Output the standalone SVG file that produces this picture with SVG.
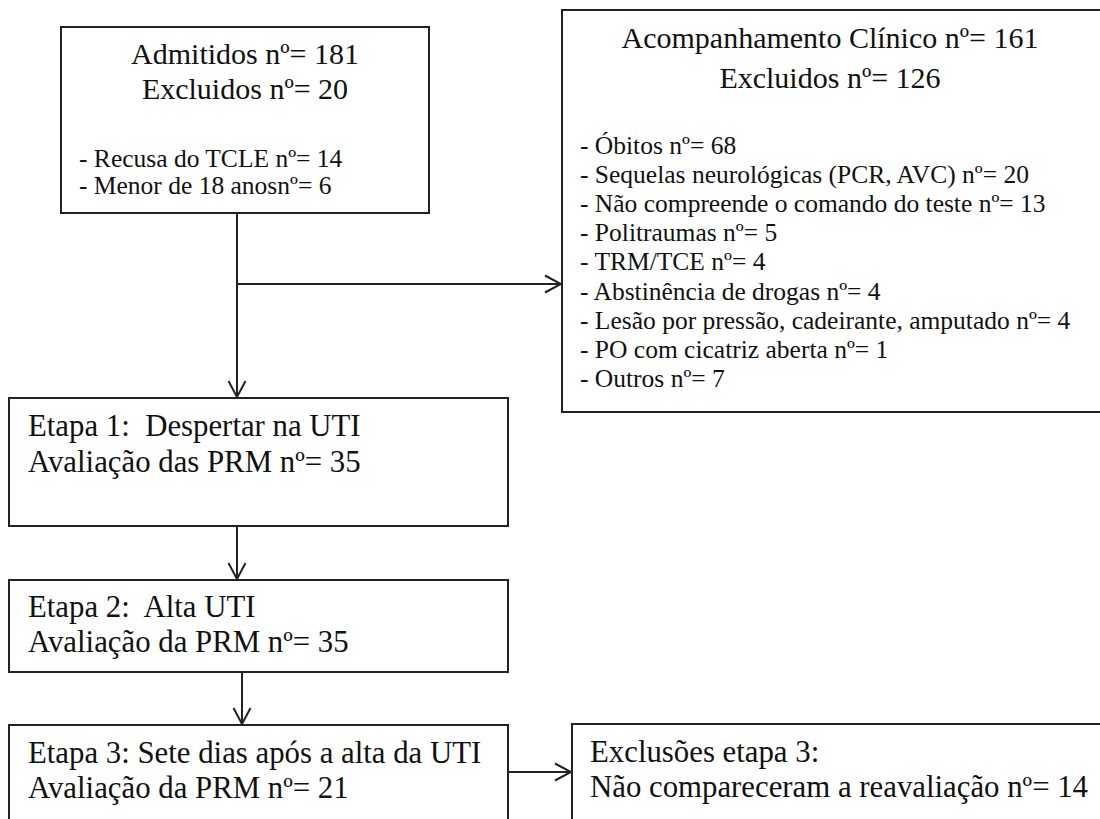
<svg xmlns="http://www.w3.org/2000/svg" width="1100" height="819" viewBox="0 0 1100 819">
<style>
.box{fill:#fff;stroke:#222;stroke-width:2}
text{font-family:"Liberation Serif","DejaVu Serif","Times New Roman",serif;fill:#111;white-space:pre}
.big{font-size:30px}
.mid{font-size:30.8px}
.small{font-size:25.5px}
.c{text-anchor:middle}
.conn{fill:none;stroke:#222;stroke-width:2}
</style>
<defs>
<marker id="arr" viewBox="-17 -10 19 20" refX="0" refY="0" markerWidth="19" markerHeight="20" markerUnits="userSpaceOnUse" orient="auto">
<path d="M-16,-8.5 L0,0 L-16,8.5" fill="none" stroke="#222" stroke-width="2"/>
</marker>
</defs>
<rect width="1100" height="819" fill="#fff"/>
<g id="connectors">
<line class="conn" x1="237" y1="213" x2="237" y2="397" marker-end="url(#arr)"/>
<line class="conn" x1="237" y1="284" x2="561" y2="284" marker-end="url(#arr)"/>
<line class="conn" x1="237" y1="526" x2="237" y2="579" marker-end="url(#arr)"/>
<line class="conn" x1="242" y1="672" x2="242" y2="724" marker-end="url(#arr)"/>
<line class="conn" x1="508" y1="772" x2="571" y2="772" marker-end="url(#arr)"/>
</g>
<g id="admitidos">
<rect class="box" x="61" y="27" width="368" height="186"/>
<text class="big c" x="245" y="64">Admitidos nº= 181</text>
<text class="big c" x="245" y="99">Excluidos nº= 20</text>
<text class="small" x="79" y="167">- Recusa do TCLE nº= 14</text>
<text class="small" x="79" y="194">- Menor de 18 anosnº= 6</text>
</g>
<g id="acompanhamento">
<rect class="box" x="562" y="10" width="560" height="402"/>
<text class="big c" x="830" y="48">Acompanhamento Clínico nº= 161</text>
<text class="big c" x="830" y="88">Excluidos nº= 126</text>
<text class="small" x="580" y="154">- Óbitos nº= 68</text>
<text class="small" x="580" y="183">- Sequelas neurológicas (PCR, AVC) nº= 20</text>
<text class="small" x="580" y="212">- Não compreende o comando do teste nº= 13</text>
<text class="small" x="580" y="241">- Politraumas nº= 5</text>
<text class="small" x="580" y="270">- TRM/TCE nº= 4</text>
<text class="small" x="580" y="300">- Abstinência de drogas nº= 4</text>
<text class="small" x="580" y="329">- Lesão por pressão, cadeirante, amputado nº= 4</text>
<text class="small" x="580" y="358">- PO com cicatriz aberta nº= 1</text>
<text class="small" x="580" y="387">- Outros nº= 7</text>
</g>
<g id="etapa1">
<rect class="box" x="9" y="398" width="499" height="128"/>
<text class="mid" x="28" y="436">Etapa 1:  Despertar na UTI</text>
<text class="mid" x="28" y="472">Avaliação das PRM nº= 35</text>
</g>
<g id="etapa2">
<rect class="box" x="9" y="580" width="499" height="92"/>
<text class="mid" x="28" y="617">Etapa 2:  Alta UTI</text>
<text class="mid" x="28" y="652">Avaliação da PRM nº= 35</text>
</g>
<g id="etapa3">
<rect class="box" x="9" y="725" width="499" height="110"/>
<text class="mid" x="28" y="763">Etapa 3: Sete dias após a alta da UTI</text>
<text class="mid" x="28" y="798">Avaliação da PRM nº= 21</text>
</g>
<g id="exclusoes">
<rect class="box" x="572" y="724" width="550" height="110"/>
<text class="mid" x="590" y="762">Exclusões etapa 3:</text>
<text class="mid" x="590" y="797">Não compareceram a reavaliação nº= 14</text>
</g>
</svg>
